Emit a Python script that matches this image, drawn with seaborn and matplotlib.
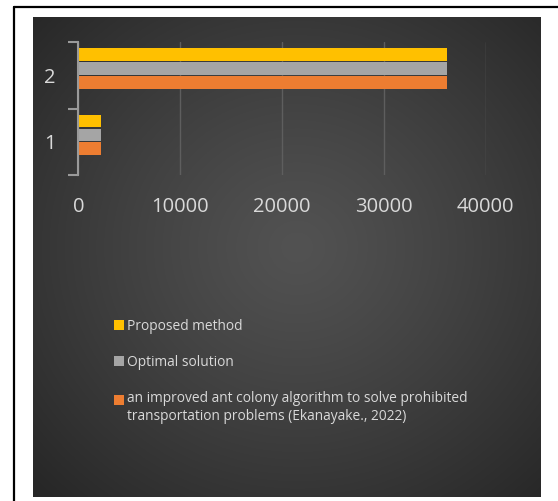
import numpy as np
import pandas as pd
import seaborn as sns
import matplotlib.pyplot as plt
from matplotlib.patches import Patch, Rectangle
from matplotlib.lines import Line2D
from matplotlib.transforms import ScaledTranslation
from matplotlib.legend_handler import HandlerPatch

# ---- data ----
categories = ["2", "1"]
series_names = [
    "Proposed method",
    "Optimal solution",
    "an improved ant colony algorithm to solve prohibited\ntransportation problems (Ekanayake., 2022)",
]
proposed = [36150, 2230]
optimal = [36150, 2230]
ekanayake = [36150, 2230]
colors = ["#FFC000", "#A5A5A5", "#ED7D31"]
xticks = [0, 10000, 20000, 30000, 40000]

rows = []
for name, vals in zip(series_names, [proposed, optimal, ekanayake]):
    for c, v in zip(categories, vals):
        rows.append(dict(category=c, series=name, value=v))
df = pd.DataFrame(rows)

sns.set_theme(style="dark")
plt.rcParams['font.family'] = ['Open Sans', 'DejaVu Sans']

W, H = 558, 501
fig = plt.figure(figsize=(W / 100, H / 100), dpi=100)
fig.patch.set_facecolor('white')

# ---- dark radial-gradient panel ----
px0, px1, py0, py1 = 33, 541, 17, 497
bg = fig.add_axes([px0 / W, 1 - py1 / H, (px1 - px0) / W, (py1 - py0) / H])
yy, xx = np.mgrid[0:1:400j, 0:1:400j]
r = np.sqrt(((xx - 0.52) / 0.72) ** 2 + ((yy - 0.52) / 0.72) ** 2)
r = np.clip(r, 0, 1)
c_center = np.array([0x52, 0x52, 0x52]) / 255
c_edge = np.array([0x27, 0x27, 0x27]) / 255
img = c_center + (c_edge - c_center) * (r[..., None] ** 1.2)
bg.imshow(img, extent=[0, 1, 0, 1], aspect='auto', origin='lower')
bg.set_axis_off()

# ---- main axes ----
ax = fig.add_axes([78.3 / W, 1 - 175 / H, (485.8 - 78.3) / W, (175 - 42.3) / H])
ax.set_facecolor('none')
sns.barplot(data=df, y='category', x='value', hue='series', order=categories,
            hue_order=series_names, palette=colors, width=0.63, gap=0.1,
            orient='h', ax=ax, legend=False, saturation=1, linewidth=0)

# shift bars slightly upward like the original
shift = ScaledTranslation(0, 7 / 100, fig.dpi_scale_trans)
for p in ax.patches:
    p.set_transform(ax.transData + shift)

ax.set_xlim(0, 40000)
ax.set_ylim(1.5, -0.5)
ax.set_xlabel('')
ax.set_ylabel('')
ax.set_axisbelow(True)
ax.xaxis.grid(True, color='#5e5e5e', lw=1)
ax.yaxis.grid(False)
for s in ['top', 'right', 'bottom']:
    ax.spines[s].set_visible(False)
ax.spines['left'].set_color('#9a9a9a')
ax.spines['left'].set_linewidth(1.5)

ax.set_xticks(xticks, labels=[str(v) for v in xticks])
ax.tick_params(axis='x', length=0, pad=16, labelsize=14.5, labelcolor='#d9d9d9')
ax.set_yticks([0, 1], labels=categories)
ax.tick_params(axis='y', which='major', length=0, pad=16.5, labelsize=14.5,
               labelcolor='#d9d9d9')
ax.set_yticks([-0.5, 0.5, 1.5], minor=True)
ax.tick_params(axis='y', which='minor', left=True, length=7, width=1.5, color='#9a9a9a')


# ---- legend ----
def top_square(legend, orig_handle, xdescent, ydescent, width, height, fontsize):
    # align the square with the first line of a two-line label
    return Rectangle((-xdescent, -ydescent + 6.0), width, height)


handles = [Patch(facecolor=c, edgecolor='none') for c in colors]
fig.legend(handles, series_names, loc='upper left', bbox_to_anchor=(114 / W, 1 - 318.5 / H),
           frameon=False, fontsize=9.9, labelcolor='#d9d9d9', handlelength=0.72,
           handleheight=0.72, handletextpad=0.2, labelspacing=1.56, borderpad=0,
           borderaxespad=0,
           handler_map={handles[2]: HandlerPatch(patch_func=top_square)})

# ---- outer border ----
fig.add_artist(Line2D([14 / W, 14 / W], [0, 1 - 7 / H], transform=fig.transFigure,
                      color='black', lw=1.6))
fig.add_artist(Line2D([14 / W, 1], [1 - 7 / H, 1 - 7 / H], transform=fig.transFigure,
                      color='black', lw=1.6))

fig.savefig('out.png', dpi=100)
